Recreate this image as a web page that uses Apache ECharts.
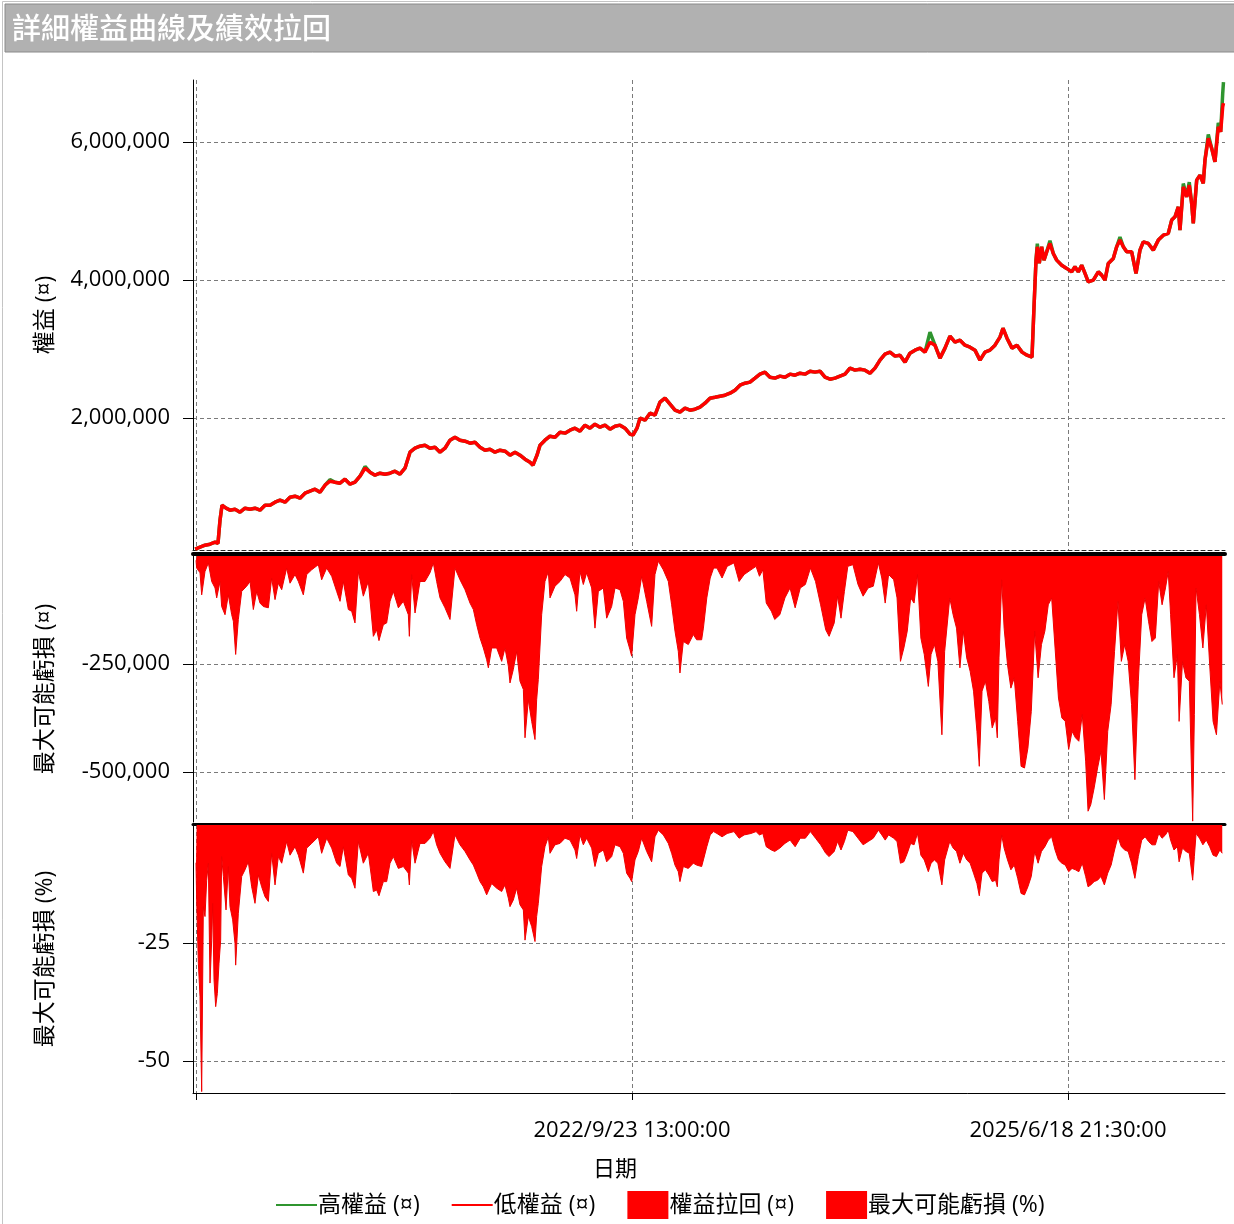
<!DOCTYPE html>
<html><head><meta charset="utf-8">
<script src="https://cdn.jsdelivr.net/npm/echarts@6/dist/echarts.min.js"></script>
<style>html,body{margin:0;padding:0;background:#fff}#c{width:1234px;height:1224px}</style>
</head><body><div id="c"></div>
<script>
// ---------- texts ----------
const titleText = '詳細權益曲線及績效拉回';
const seriesNames = ['高權益 (¤)', '低權益 (¤)', '權益拉回 (¤)', '最大可能虧損 (%)'];
const yAxisNames = ['權益 (¤)', '最大可能虧損 (¤)', '最大可能虧損 (%)'];
const xAxisName = '日期';
// x tick dates (first one is not labelled in the reference)
const xTickDates = ['2019/12/29 04:30:00', '2022/9/23 13:00:00', '2025/6/18 21:30:00'];
const xTickShown = [false, true, true];
const equityTicks = [2000000, 4000000, 6000000];
const amountTicks = [-500000, -250000];
const pctTicks = [-50, -25];

// ---------- data (x = days since the first x tick) ----------
const eqDays = [
 -2, 9.2, 20.6, 32.1, 43.6, 50.4, 55.0, 59.6, 68.8, 77.9,
 89.4, 100.9, 112.3, 123.8, 135.2, 146.7, 158.2, 169.6, 181.1, 192.5,
 204.0, 215.5, 226.9, 238.4, 249.8, 261.3, 272.8, 284.2, 295.7, 307.1,
 318.6, 330.1, 341.5, 353.0, 364.4, 375.9, 387.4, 398.8, 410.3, 421.7,
 433.2, 444.7, 456.1, 467.6, 479.0, 490.5, 502.0, 513.4, 524.9, 536.3,
 547.8, 559.3, 570.7, 582.2, 593.6, 605.1, 616.6, 628.0, 639.5, 651.0,
 662.4, 673.9, 685.3, 696.8, 708.3, 719.7, 731.2, 742.6, 754.1, 765.6,
 772.4, 781.6, 788.5, 799.9, 811.4, 822.9, 834.3, 845.8, 857.2, 868.7,
 880.2, 891.6, 903.1, 914.5, 926.0, 937.5, 948.9, 960.4, 971.9, 983.3,
 994.8, 1001.6, 1010.8, 1017.7, 1029.2, 1040.6, 1052.1, 1063.5, 1075.0, 1086.5,
 1097.9, 1109.4, 1120.8, 1132.3, 1143.8, 1155.2, 1166.7, 1178.1, 1189.6, 1201.1,
 1212.5, 1224.0, 1235.4, 1246.9, 1258.4, 1269.8, 1281.3, 1292.7, 1304.2, 1315.7,
 1327.1, 1338.6, 1350.0, 1361.5, 1373.0, 1384.4, 1395.9, 1407.3, 1418.8, 1430.3,
 1441.7, 1453.2, 1464.6, 1476.1, 1487.6, 1499.0, 1510.5, 1521.9, 1533.4, 1544.9,
 1556.3, 1567.8, 1579.2, 1590.7, 1602.2, 1613.6, 1625.1, 1636.5, 1648.0, 1659.5,
 1670.9, 1682.4, 1693.8, 1705.3, 1716.8, 1728.2, 1739.7, 1751.2, 1762.6, 1774.1,
 1785.5, 1797.0, 1808.5, 1819.9, 1831.4, 1842.8, 1849.7, 1858.9, 1870.4, 1881.8,
 1893.3, 1904.7, 1916.2, 1920.8, 1925.4, 1928.4, 1932.9, 1938.4, 1943.7, 1949.9,
 1957.4, 1965.0, 1972.8, 1984.3, 1995.7, 2007.2, 2014.7, 2022.3, 2030.1, 2037.7,
 2045.2, 2056.7, 2068.2, 2076.0, 2083.5, 2091.1, 2102.5, 2110.3, 2117.9, 2125.5,
 2133.3, 2144.7, 2154.6, 2163.7, 2171.3, 2182.8, 2194.2, 2205.7, 2217.2, 2228.6,
 2236.4, 2244.0, 2251.6, 2255.4, 2263.0, 2270.8, 2276.7, 2282.2, 2285.9, 2293.7,
 2301.3, 2308.8, 2312.7, 2320.3, 2328.1, 2335.6, 2343.2, 2348.7, 2353.3, 2355.1
];
const eqLow = [
 101000, 130000, 159000, 174000, 203000, 188000, 522000, 739000, 696000, 667000,
 681000, 638000, 696000, 681000, 696000, 667000, 739000, 739000, 783000, 812000,
 783000, 855000, 870000, 841000, 913000, 942000, 971000, 928000, 1029000, 1087000,
 1072000, 1058000, 1116000, 1043000, 1072000, 1159000, 1275000, 1217000, 1174000, 1203000,
 1188000, 1203000, 1232000, 1188000, 1275000, 1507000, 1565000, 1594000, 1609000, 1565000,
 1580000, 1507000, 1565000, 1681000, 1725000, 1681000, 1667000, 1638000, 1652000, 1580000,
 1536000, 1551000, 1507000, 1536000, 1522000, 1464000, 1507000, 1464000, 1406000, 1362000,
 1319000, 1464000, 1609000, 1681000, 1739000, 1725000, 1797000, 1783000, 1826000, 1855000,
 1812000, 1899000, 1855000, 1913000, 1870000, 1899000, 1841000, 1884000, 1899000, 1855000,
 1768000, 1754000, 1855000, 2000000, 1971000, 2072000, 2043000, 2232000, 2290000, 2203000,
 2116000, 2087000, 2145000, 2116000, 2130000, 2159000, 2217000, 2290000, 2304000, 2319000,
 2333000, 2362000, 2406000, 2478000, 2507000, 2522000, 2580000, 2638000, 2667000, 2594000,
 2580000, 2609000, 2594000, 2638000, 2623000, 2652000, 2638000, 2681000, 2667000, 2681000,
 2594000, 2565000, 2580000, 2609000, 2638000, 2725000, 2696000, 2710000, 2696000, 2652000,
 2725000, 2841000, 2928000, 2957000, 2899000, 2913000, 2812000, 2942000, 2986000, 3015000,
 2957000, 3101000, 3058000, 2870000, 3015000, 3188000, 3101000, 3130000, 3058000, 3029000,
 2986000, 2841000, 2957000, 2986000, 3058000, 3174000, 3304000, 3159000, 3015000, 3058000,
 2957000, 2913000, 2884000, 3609000, 4290000, 4483000, 4246000, 4483000, 4290000, 4410000,
 4532000, 4387000, 4290000, 4217000, 4170000, 4120000, 4193000, 4120000, 4217000, 4097000,
 3975000, 4000000, 4120000, 4073000, 4000000, 4242000, 4315000, 4483000, 4580000, 4483000,
 4410000, 4410000, 4097000, 4435000, 4555000, 4532000, 4435000, 4580000, 4652000, 4677000,
 4870000, 4917000, 5062000, 4725000, 5352000, 5207000, 5377000, 5112000, 4822000, 5449000,
 5522000, 5402000, 5739000, 6054000, 5909000, 5715000, 6222000, 6149000, 6512000, 6565000
];
const eqHigh = [
 101000, 130000, 159000, 174000, 203000, 188000, 522000, 739000, 696000, 667000,
 681000, 638000, 696000, 681000, 696000, 667000, 739000, 739000, 783000, 812000,
 783000, 855000, 870000, 841000, 913000, 942000, 971000, 928000, 1029000, 1110000,
 1072000, 1058000, 1116000, 1043000, 1072000, 1159000, 1300000, 1217000, 1174000, 1203000,
 1188000, 1203000, 1232000, 1188000, 1275000, 1507000, 1565000, 1594000, 1609000, 1565000,
 1580000, 1507000, 1565000, 1681000, 1725000, 1681000, 1667000, 1638000, 1652000, 1580000,
 1536000, 1551000, 1507000, 1536000, 1522000, 1464000, 1507000, 1464000, 1406000, 1362000,
 1319000, 1464000, 1609000, 1681000, 1739000, 1725000, 1797000, 1783000, 1826000, 1855000,
 1812000, 1899000, 1855000, 1913000, 1870000, 1899000, 1841000, 1884000, 1899000, 1855000,
 1768000, 1754000, 1855000, 2000000, 1971000, 2072000, 2043000, 2232000, 2290000, 2203000,
 2116000, 2087000, 2145000, 2116000, 2130000, 2159000, 2217000, 2290000, 2304000, 2319000,
 2333000, 2362000, 2406000, 2478000, 2507000, 2522000, 2580000, 2638000, 2667000, 2594000,
 2580000, 2609000, 2594000, 2638000, 2623000, 2652000, 2638000, 2681000, 2667000, 2681000,
 2594000, 2565000, 2580000, 2609000, 2638000, 2725000, 2696000, 2710000, 2696000, 2652000,
 2725000, 2841000, 2928000, 2957000, 2899000, 2913000, 2812000, 2942000, 2986000, 3015000,
 2957000, 3246000, 3058000, 2870000, 3015000, 3188000, 3101000, 3130000, 3058000, 3029000,
 2986000, 2841000, 2957000, 2986000, 3058000, 3174000, 3304000, 3159000, 3015000, 3058000,
 2957000, 2913000, 2884000, 3609000, 4290000, 4530000, 4246000, 4483000, 4290000, 4410000,
 4570000, 4387000, 4290000, 4217000, 4170000, 4120000, 4193000, 4120000, 4217000, 4097000,
 3975000, 4000000, 4120000, 4073000, 4000000, 4242000, 4315000, 4483000, 4625000, 4483000,
 4410000, 4410000, 4097000, 4435000, 4555000, 4532000, 4435000, 4580000, 4652000, 4677000,
 4870000, 4917000, 5062000, 4725000, 5400000, 5207000, 5420000, 5112000, 4822000, 5449000,
 5522000, 5402000, 5739000, 6110000, 5909000, 5715000, 6280000, 6149000, 6700000, 6870000
];

const ddDays = [
 0, 1.5, 9.2, 13.0, 20.6, 28.3, 35.9, 43.6, 47.4, 55.0,
 58.8, 66.5, 74.1, 81.8, 85.6, 90.9, 97.0, 104.7, 116.1, 123.8,
 131.4, 139.1, 146.7, 154.3, 165.8, 173.4, 181.1, 188.7, 196.4, 207.8,
 215.5, 226.9, 234.6, 246.0, 253.7, 265.1, 280.4, 288.0, 299.5, 311.0,
 322.4, 330.1, 337.7, 349.2, 356.8, 364.4, 372.1, 383.5, 395.0, 406.5,
 414.1, 419.4, 429.4, 437.0, 444.7, 452.3, 463.8, 475.2, 486.7, 489.0,
 494.3, 502.0, 513.4, 524.9, 536.3, 544.0, 551.6, 559.3, 570.7, 582.2,
 593.6, 605.1, 616.6, 628.0, 635.7, 643.3, 651.0, 658.6, 666.2, 670.1,
 677.7, 689.2, 700.6, 708.2, 715.9, 719.7, 727.3, 735.0, 742.6, 750.3,
 754.1, 761.7, 769.4, 777.0, 780.8, 784.6, 792.3, 799.9, 807.6, 811.4,
 822.8, 834.3, 845.8, 857.2, 868.7, 872.5, 880.1, 887.8, 895.4, 906.9,
 914.5, 922.2, 933.6, 941.3, 952.7, 960.4, 971.8, 979.5, 987.1, 994.7,
 998.6, 1006.2, 1013.8, 1021.5, 1033.0, 1044.4, 1052.0, 1059.7, 1071.1, 1082.6,
 1090.2, 1097.9, 1105.5, 1109.3, 1117.0, 1128.4, 1139.9, 1147.5, 1159.0,
 1163.0, 1170.8, 1178.6, 1186.4, 1194.1, 1205.8, 1217.5, 1233.1, 1244.8, 1256.4,
 1272.0, 1283.7, 1291.5, 1299.3, 1307.1, 1318.8, 1326.5, 1338.2, 1349.9, 1361.6,
 1373.3, 1385.0, 1396.7, 1408.3, 1420.0, 1431.7, 1443.4, 1451.2, 1462.9, 1470.6,
 1478.4, 1486.2, 1494.0, 1505.7, 1517.4, 1529.1, 1540.7, 1552.4, 1564.1, 1571.9,
 1579.7, 1587.5, 1599.2, 1606.9, 1614.7, 1622.5, 1630.3, 1638.1, 1645.9, 1653.7,
 1661.5, 1669.2, 1678.6, 1684.8, 1692.6, 1700.4, 1709.7, 1716.0, 1727.7, 1735.4,
 1743.2, 1751.0, 1758.8, 1766.6, 1774.4, 1782.2, 1790.0, 1795.4, 1801.7, 1809.4,
 1817.2, 1825.0, 1832.8, 1836.7, 1840.6, 1846.8, 1852.3, 1860.1, 1867.8, 1875.6,
 1883.4, 1891.2, 1899.0, 1906.8, 1914.6, 1922.4, 1930.2, 1937.9, 1945.7, 1953.5,
 1961.3, 1969.1, 1976.9, 1984.7, 1992.5, 2000.3, 2008.0, 2015.8, 2023.6, 2031.4,
 2039.2, 2044.7, 2050.9, 2058.7, 2066.5, 2074.3, 2082.1, 2089.8, 2097.6, 2105.4,
 2113.2, 2121.0, 2128.8, 2136.6, 2144.4, 2152.1, 2159.9, 2167.7, 2175.5, 2183.3,
 2191.1, 2198.9, 2206.7, 2214.4, 2222.2, 2228.5, 2233.9, 2241.7, 2249.5, 2253.4,
 2261.2, 2269.0, 2276.8, 2284.5, 2288.4, 2292.3, 2300.1, 2307.9, 2315.7, 2323.5,
 2331.3, 2339.0, 2346.8, 2352.3
];
const ddAmount = [
 -10000, -28000, -39000, -90000, -36000, -16000, -59000, -74000, -97000, -59000,
 -117000, -136000, -90000, -136000, -151000, -228000, -147000, -82000, -70000, -59000,
 -124000, -82000, -109000, -117000, -120000, -51000, -101000, -63000, -78000, -28000,
 -63000, -43000, -59000, -90000, -43000, -32000, -20000, -55000, -28000, -47000,
 -82000, -105000, -59000, -124000, -128000, -155000, -36000, -93000, -59000, -186000,
 -171000, -196000, -159000, -155000, -105000, -82000, -120000, -105000, -136000, -186000,
 -43000, -132000, -59000, -59000, -39000, -16000, -59000, -97000, -120000, -147000,
 -28000, -55000, -78000, -109000, -124000, -159000, -190000, -213000, -240000, -259000,
 -213000, -213000, -244000, -213000, -255000, -294000, -263000, -221000, -290000, -309000,
 -421000, -333000, -383000, -425000, -333000, -286000, -136000, -59000, -36000, -97000,
 -70000, -59000, -43000, -51000, -90000, -128000, -36000, -66000, -39000, -74000,
 -167000, -82000, -74000, -144000, -117000, -74000, -78000, -105000, -190000, -217000,
 -232000, -136000, -97000, -47000, -105000, -163000, -43000, -12000, -32000, -59000,
 -113000, -174000, -221000, -271000, -198000, -205000, -182000, -194000, -194000,
 -167000, -97000, -51000, -28000, -28000, -51000, -24000, -16000, -59000, -43000,
 -32000, -24000, -47000, -32000, -109000, -128000, -147000, -136000, -97000, -74000,
 -120000, -74000, -66000, -28000, -59000, -113000, -171000, -186000, -155000, -93000,
 -144000, -82000, -24000, -20000, -66000, -93000, -74000, -70000, -16000, -51000,
 -109000, -43000, -55000, -97000, -244000, -213000, -174000, -97000, -109000, -43000,
 -190000, -228000, -302000, -228000, -205000, -244000, -414000, -221000, -97000, -136000,
 -167000, -259000, -174000, -236000, -267000, -313000, -406000, -487000, -313000, -290000,
 -337000, -398000, -375000, -421000, -236000, -55000, -167000, -252000, -306000, -282000,
 -383000, -487000, -491000, -445000, -360000, -174000, -282000, -205000, -174000, -113000,
 -97000, -213000, -329000, -375000, -383000, -448000, -406000, -421000, -429000, -367000,
 -475000, -591000, -576000, -537000, -491000, -452000, -564000, -406000, -344000, -221000,
 -105000, -244000, -205000, -244000, -344000, -518000, -290000, -136000, -97000, -151000,
 -198000, -190000, -59000, -113000, -74000, -36000, -136000, -282000, -228000, -383000,
 -244000, -282000, -290000, -614000, -367000, -74000, -136000, -213000, -113000, -252000,
 -383000, -414000, -290000, -344000
];

const pctHeadDays = [
 0, 1.5, 5.35, 9.2, 13.0, 16.8, 20.6, 24.5, 28.3, 32.1,
 35.9, 38.2, 41.3, 45.1, 48.9, 52.7, 56.5, 58.8, 62.7, 68.8,
 74.1, 77.9, 84.0, 89.4, 90.9, 97.0, 104.7, 112.3, 119.9, 127.6,
 135.2, 142.9, 150.5, 158.2, 165.8, 173.4
];
const ddPct = [
 -8.0, -15.9, -29.3, -36.4, -56.5, -17.3, -19.4, -11.7, -8.1, -33.5,
 -24.4, -16.6, -32.8, -38.5, -35.7, -29.3, -24.4, -6.7, -10.9, -18.0,
 -8.8, -17.3, -20.1, -25.1, -29.7, -18.7, -10.9, -9.5, -7.8, -13.1,
 -16.6, -10.6, -13.1, -15.2, -16.2, -6.0,
 -12.7, -6.7, -8.1, -3.5,
 -6.4, -4.6, -6.4, -10.2, -4.9, -3.9, -2.5, -6.0, -2.8, -4.9,
 -8.1, -8.8, -4.6, -10.6, -11.3, -13.4, -3.5, -8.1, -6.0, -14.1,
 -13.8, -15.0, -12.0, -12.0, -8.1, -6.7, -9.2, -8.8, -10.2, -12.7,
 -3.2, -8.1, -3.9, -3.9, -2.8, -1.4, -4.2, -6.0, -7.8, -9.2,
 -2.1, -4.2, -5.6, -7.4, -8.5, -10.2, -12.0, -13.1, -14.8, -15.2,
 -12.4, -13.4, -14.1, -12.7, -15.5, -17.3, -15.9, -13.4, -16.9, -18.0,
 -24.4, -19.4, -21.5, -24.7, -19.4, -16.6, -8.8, -4.6, -2.5, -6.0,
 -4.2, -3.9, -2.8, -3.2, -5.3, -7.1, -2.1, -4.2, -2.8, -4.9,
 -8.8, -6.0, -5.3, -7.8, -6.7, -4.2, -4.6, -6.0, -10.2, -11.3,
 -12.0, -7.4, -5.6, -2.8, -5.6, -7.8, -2.5, -1.1, -2.1, -3.9,
 -6.0, -8.5, -9.9, -12.0, -8.8, -9.2, -8.1, -8.5, -8.8,
 -7.4, -4.6, -2.1, -1.4, -1.8, -2.5, -1.8, -1.4, -2.8, -2.1,
 -1.8, -1.4, -2.1, -1.8, -4.6, -5.3, -5.6, -4.9, -3.9, -3.2,
 -4.6, -2.8, -2.8, -1.4, -2.8, -4.2, -6.0, -6.7, -5.6, -3.5,
 -5.3, -3.5, -1.1, -1.4, -2.8, -4.2, -3.5, -2.8, -1.1, -2.1,
 -3.2, -2.1, -2.8, -3.5, -8.1, -7.8, -6.0, -3.9, -4.2, -1.8,
 -6.4, -7.4, -9.9, -8.1, -7.4, -8.1, -12.7, -7.4, -3.5, -4.9,
 -5.6, -8.1, -6.0, -7.4, -8.1, -10.2, -12.4, -15.0, -10.2, -9.5,
 -10.6, -12.0, -11.7, -13.1, -7.4, -2.1, -4.9, -7.4, -9.5, -8.5,
 -11.3, -14.5, -14.8, -13.1, -10.9, -5.6, -8.1, -5.6, -4.6, -3.2,
 -2.5, -5.3, -7.4, -8.1, -8.5, -9.9, -9.2, -9.5, -9.9, -8.1,
 -10.9, -13.1, -12.7, -12.0, -11.7, -10.9, -12.7, -10.2, -8.5, -5.3,
 -2.5, -4.6, -5.3, -5.6, -8.1, -11.3, -6.7, -3.2, -2.5, -3.5,
 -4.2, -4.2, -1.8, -2.8, -2.1, -1.1, -3.2, -5.3, -4.6, -7.8,
 -4.9, -5.6, -6.0, -11.7, -6.7, -1.8, -2.8, -4.2, -3.2, -4.6,
 -6.4, -6.7, -5.3, -6.0
];
// percent series shares the amount series' x positions after its own first part
const pctDays = pctHeadDays.concat(ddDays.slice(26));

// ---------- chart ----------
const FONT = "'Open Sans','Noto Sans CJK TC',sans-serif";
function parseDate(s) {
  const [d, t] = s.split(' ');
  const [y, m, dd] = d.split('/').map(Number);
  const [h, mi, se] = t.split(':').map(Number);
  return Date.UTC(y, m - 1, dd, h, mi, se);
}
const t0 = parseDate(xTickDates[0]);
const xTickDays = xTickDates.map(s => (parseDate(s) - t0) / 86400000);
const xMin = -6.9, xMax = 2358.6;
const zip = (a, b) => a.map((v, i) => [v, b[i]]);

const dash = { type: [4, 3], color: '#7a7a7a', width: 1 };
const labelFont = { fontSize: 22, color: '#000', fontFamily: FONT };
const nameFont = { fontSize: 23, color: '#000', fontFamily: FONT };
const lineIcon = 'path://M0,0L40,0L40,2L0,2Z';

function xLabel(v) {
  let best = 0;
  xTickDays.forEach((t, i) => { if (Math.abs(t - v) < Math.abs(xTickDays[best] - v)) best = i; });
  return xTickShown[best] ? xTickDates[best] : '';
}

function yAxis(gi, min, max, ticks, name) {
  return {
    type: 'value', gridIndex: gi, min: min, max: max,
    name: name, nameLocation: 'middle', nameGap: 136, nameRotate: 90, nameTextStyle: nameFont,
    axisLine: { show: true, onZero: false, lineStyle: { color: '#000', width: 1 } },
    axisTick: { show: true, length: 10, customValues: ticks, lineStyle: { color: '#000' } },
    axisLabel: { show: true, customValues: ticks, margin: 23, padding: [0, 0, 15, 0],
      formatter: v => Number(v).toLocaleString('en-US'), ...labelFont },
    splitLine: { show: true, lineStyle: dash }
  };
}

const option = {
  animation: false,
  backgroundColor: '#fff',
  graphic: [
    { type: 'rect', silent: true, shape: { x: 2.5, y: 1.5, width: 1240, height: 1240 }, style: { fill: 'none', stroke: '#c4c4c4', lineWidth: 1 } },
    { type: 'rect', silent: true, shape: { x: 5, y: 4, width: 1240, height: 48 }, style: { fill: '#b1b1b1', stroke: '#8a8a8a', lineWidth: 1 } },
    { type: 'text', silent: true, x: 12, y: 28, style: { text: titleText, fill: '#fff', font: "500 29px 'Noto Sans CJK TC'", verticalAlign: 'middle' } }
  ],
  grid: [
    { left: 193, width: 1032, top: 80, height: 470 },
    { left: 193, width: 1032, top: 556, height: 266 },
    { left: 193, width: 1032, top: 825, height: 268 }
  ],
  xAxis: [
    { type: 'value', gridIndex: 0, min: xMin, max: xMax, position: 'bottom',
      axisLine: { show: true, onZero: false, lineStyle: { color: '#222', width: 1, type: [4, 3] } },
      axisTick: { show: false, customValues: xTickDays }, axisLabel: { show: false, customValues: xTickDays },
      splitLine: { show: true, lineStyle: dash } },
    { type: 'value', gridIndex: 1, min: xMin, max: xMax, position: 'top', offset: 2,
      axisLine: { show: true, onZero: false, lineStyle: { color: '#000', width: 4 } },
      axisTick: { show: false, customValues: xTickDays }, axisLabel: { show: false, customValues: xTickDays },
      splitLine: { show: true, lineStyle: dash } },
    { type: 'value', gridIndex: 2, min: xMin, max: xMax, position: 'bottom',
      name: xAxisName, nameLocation: 'middle', nameGap: 66,
      nameTextStyle: { fontSize: 22, color: '#000', fontFamily: FONT, padding: [0, 188, 0, 0] },
      axisLine: { show: true, onZero: false, lineStyle: { color: '#000', width: 1 } },
      axisTick: { show: true, length: 7, customValues: xTickDays, lineStyle: { color: '#000' } },
      axisLabel: { show: true, customValues: xTickDays, margin: 27, formatter: xLabel, ...labelFont },
      splitLine: { show: true, lineStyle: dash } },
    { type: 'value', gridIndex: 2, min: xMin, max: xMax, position: 'top', offset: 1,
      axisLine: { show: true, onZero: false, lineStyle: { color: '#000', width: 3 } },
      axisTick: { show: false }, axisLabel: { show: false }, splitLine: { show: false } }
  ],
  yAxis: [
    yAxis(0, 90000, 6900000, equityTicks, yAxisNames[0]),
    yAxis(1, -616000, 0, amountTicks, yAxisNames[1]),
    yAxis(2, -56.8, 0, pctTicks, yAxisNames[2])
  ],
  legend: {
    left: 271, top: 1186, itemWidth: 41, itemHeight: 28, itemGap: 32,
    textStyle: { fontSize: 23, color: '#000', fontFamily: FONT, padding: [0, 0, 0, -4] },
    lineStyle: { width: 2 },
    data: [
      { name: seriesNames[0], icon: lineIcon },
      { name: seriesNames[1], icon: lineIcon },
      { name: seriesNames[2], icon: 'rect' },
      { name: seriesNames[3], icon: 'rect' }
    ]
  },
  series: [
    { name: seriesNames[0], type: 'line', xAxisIndex: 0, yAxisIndex: 0, symbol: 'none',
      data: zip(eqDays, eqHigh), color: '#2f952f', lineStyle: { width: 3.5, color: '#2f952f' } },
    { name: seriesNames[1], type: 'line', xAxisIndex: 0, yAxisIndex: 0, symbol: 'none',
      data: zip(eqDays, eqLow), color: '#ff0000', lineStyle: { width: 3.5, color: '#ff0000' } },
    { name: seriesNames[2], type: 'line', xAxisIndex: 1, yAxisIndex: 1, symbol: 'none',
      data: zip(ddDays, ddAmount), color: '#ff0000', lineStyle: { width: 1, color: '#ee0000' },
      areaStyle: { color: '#ff0000', opacity: 1, origin: 'end' } },
    { name: seriesNames[3], type: 'line', xAxisIndex: 2, yAxisIndex: 2, symbol: 'none',
      data: zip(pctDays, ddPct), color: '#ff0000', lineStyle: { width: 1, color: '#ee0000' },
      areaStyle: { color: '#ff0000', opacity: 1, origin: 'end' } }
  ]
};
const chart = echarts.init(document.getElementById('c'));
chart.setOption(option);
</script>
</body></html>
